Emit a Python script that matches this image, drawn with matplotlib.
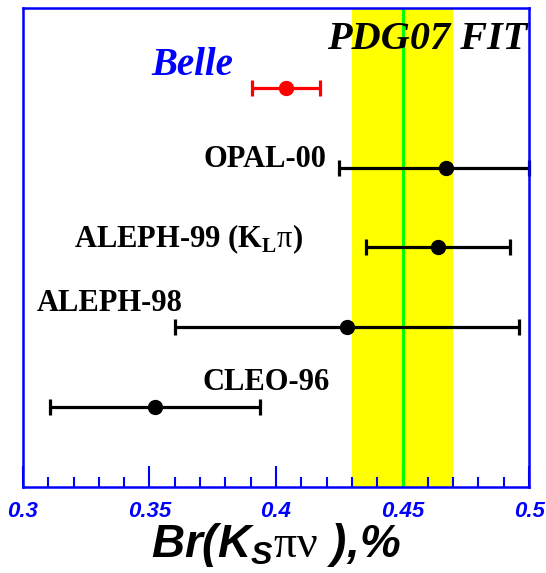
import numpy as np
import matplotlib
matplotlib.use("Agg")
import matplotlib.pyplot as plt
from matplotlib.ticker import MultipleLocator

# Br(tau -> K_S pi nu) measurements, in %
experiments = ["CLEO-96", "ALEPH-98", "ALEPH-99", "OPAL-00", "Belle"]
values = [0.352, 0.428, 0.464, 0.467, 0.404]
errors = [0.0415, 0.068, 0.0285, 0.042, 0.0135]
rows = [1, 2, 3, 4, 5]

# PDG07 fit: central value and band
pdg_value = 0.450
pdg_low = 0.430
pdg_high = 0.470

xticks = [0.30, 0.35, 0.40, 0.45, 0.50]
xticklabels = ["0.3", "0.35", "0.4", "0.45", "0.5"]
xmin, xmax = 0.30, 0.50

plt.rcParams['mathtext.fontset'] = 'custom'
plt.rcParams['mathtext.rm'] = 'Liberation Serif'
plt.rcParams['mathtext.it'] = 'Liberation Sans:bold:italic'
plt.rcParams['mathtext.bf'] = 'Liberation Serif:bold'

serif_bold = dict(family="Liberation Serif", weight="bold")
serif_bold_it = dict(family="Liberation Serif", weight="bold", style="italic")

fig = plt.figure(figsize=(5.46, 5.73), dpi=100)
ax = fig.add_axes([0.0421, 0.1501, 0.9268, 0.836])

#- - - - - - - - - - - - - - - - - - - - - - - - - - - - - - - - - - - - - - #

ax.axvspan(pdg_low, pdg_high, color=(1.0, 1.0, 0.0), lw=0, zorder=1)
ax.axvline(pdg_value, color=(0.0, 1.0, 0.0), lw=2.2, zorder=2)

for x, err, y, name in zip(values, errors, rows, experiments):
    color = "red" if name == "Belle" else "black"
    # error bar is cut at the right edge of the plot, cap kept on the edge
    hi = min(x + err, xmax) - x
    ax.errorbar(x, y, xerr=[[err], [hi]], fmt="o", color=color, ms=10,
                elinewidth=2.3, capsize=6, capthick=2.3, zorder=4, clip_on=False)

# experiment names
ax.text(0.420, 4.01, "OPAL-00", ha="right", va="baseline", fontsize=22, **serif_bold)
ax.text(0.320, 3.0, r"ALEPH-99 (K$_\mathbf{L}\mathrm{\pi}$)", ha="left", va="baseline",
        fontsize=22, **serif_bold)
ax.text(0.3055, 2.21, "ALEPH-98", ha="left", va="baseline", fontsize=22, **serif_bold)
ax.text(0.371, 1.21, "CLEO-96", ha="left", va="baseline", fontsize=22, **serif_bold)
ax.text(0.3506, 5.16, "Belle", ha="left", va="baseline", fontsize=28, color="blue",
        **serif_bold_it)
ax.text(0.420, 5.49, "PDG07 FIT", ha="left", va="baseline", fontsize=29, zorder=5,
        **serif_bold_it)

#- - - - - - - - - - - - - - - - - - - - - - - - - - - - - - - - - - - - - - #

ax.set_xlim(xmin, xmax)
ax.set_ylim(0, 6)
ax.set_yticks([])
ax.set_xticks(xticks)
ax.set_xticklabels(xticklabels, fontdict=dict(family="Liberation Sans", weight="bold",
                                              style="italic", size=16))
ax.xaxis.set_minor_locator(MultipleLocator(0.01))
ax.tick_params(axis="x", which="major", direction="in", length=15, width=1.5,
               color="blue", labelcolor="blue", pad=10)
ax.tick_params(axis="x", which="minor", direction="in", length=7.5, width=1.5,
               color="blue")

for sp in ax.spines.values():
    sp.set_color("blue")
    sp.set_linewidth(1.8)
    sp.set_zorder(6)

ax.set_xlabel(r"Br(K$_S\mathrm{\pi\nu}\ $),%", family="Liberation Sans", weight="bold",
              style="italic", fontsize=33, va="baseline")
ax.xaxis.set_label_coords(0.5, -0.146)

fig.savefig("out.png", dpi=100)
